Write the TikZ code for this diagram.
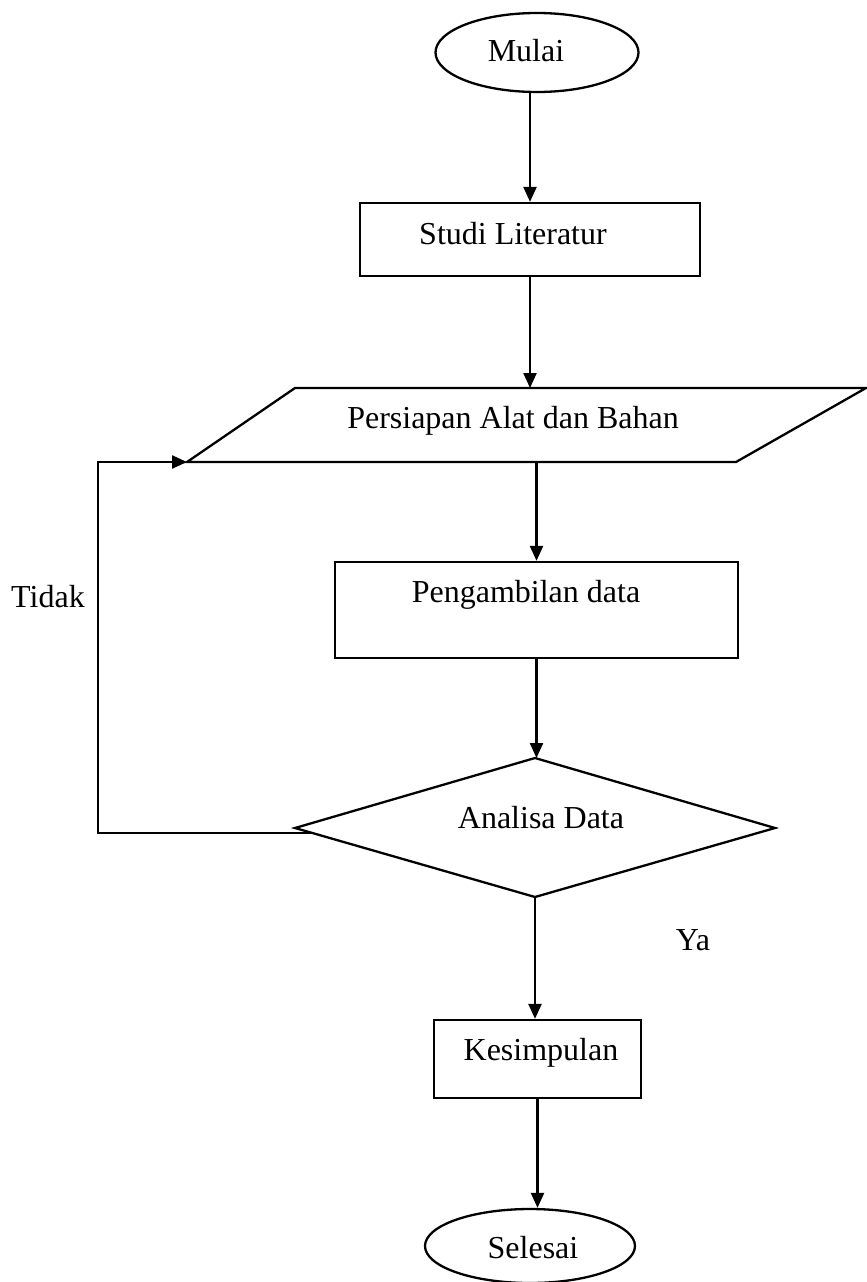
\documentclass[tikz,border=0pt]{standalone}
\usepackage{fontspec}
\setmainfont{Liberation Serif}
\usetikzlibrary{arrows.meta,shapes.geometric}
\begin{document}
\begin{tikzpicture}[x=1pt,y=-1pt,
  line width=2.3pt,
  lbl/.style={inner sep=0pt,anchor=base,font=\fontsize{32}{38}\selectfont},
  boxshape/.style={draw,rectangle,inner sep=0pt},
  oval/.style={draw,ellipse,inner sep=0pt},
  arr/.style={-{Triangle[length=15pt,width=13pt]}}]
\useasboundingbox (0,0) rectangle (867,1282);
% Terminals and boxes
\node[oval,minimum width=203,minimum height=79] (mulai) at (537,52.5) {};
\node[lbl] (tmulai) at (526,61) {Mulai};
\node[boxshape,minimum width=340,minimum height=73] (studi) at (530,239.5) {};
\node[lbl] (tstudi) at (513,244) {Studi Literatur};
% Parallelogram
\coordinate (pBL) at (187,462);
\coordinate (pTL) at (295,388);
\coordinate (pTR) at (866,388);
\coordinate (pBR) at (736,462);
\draw (pBL) -- (pTL) -- (pTR) -- (pBR) -- cycle;
\node[lbl] (tpar) at (513,428) {Persiapan Alat dan Bahan};
\node[boxshape,minimum width=403,minimum height=96] (peng) at (536.5,610) {};
\node[lbl] (tpeng) at (526,602) {Pengambilan data};
% Diamond
\coordinate (dT) at (535,758);
\coordinate (dL) at (295,828);
\coordinate (dR) at (775,828);
\coordinate (dB) at (535,897);
\draw (dT) -- (dR) -- (dB) -- (dL) -- cycle;
\node[lbl] (tana) at (541,828) {Analisa Data};
\node[boxshape,minimum width=207,minimum height=78] (kes) at (537.5,1059) {};
\node[lbl] (tkes) at (541,1060) {Kesimpulan};
\node[oval,minimum width=210,minimum height=74] (selesai) at (530,1246) {};
\node[lbl] (tsel) at (533,1258) {Selesai};
% Labels
\node[lbl] (tidak) at (48,607) {Tidak};
\node[lbl] (ya) at (693,950) {Ya};
% Connectors
\draw[arr] (studi.north |- mulai.south) -- (studi.north);
\draw[arr] (studi.south) -- (studi.south |- pTL);
\draw[arr] (peng.north |- pBL) -- (peng.north);
\draw[arr] (peng.south) -- (peng.south |- dT);
\draw[arr] (dB) -- (dB |- kes.north);
\draw[arr] (kes.south) -- (kes.south |- selesai.north);
\coordinate (tstart) at (312,833);
\coordinate (tcorner) at (98,833);
\draw[arr] (tstart) -- (tcorner) -- (tcorner |- pBL) -- (pBL);
\end{tikzpicture}
\end{document}
